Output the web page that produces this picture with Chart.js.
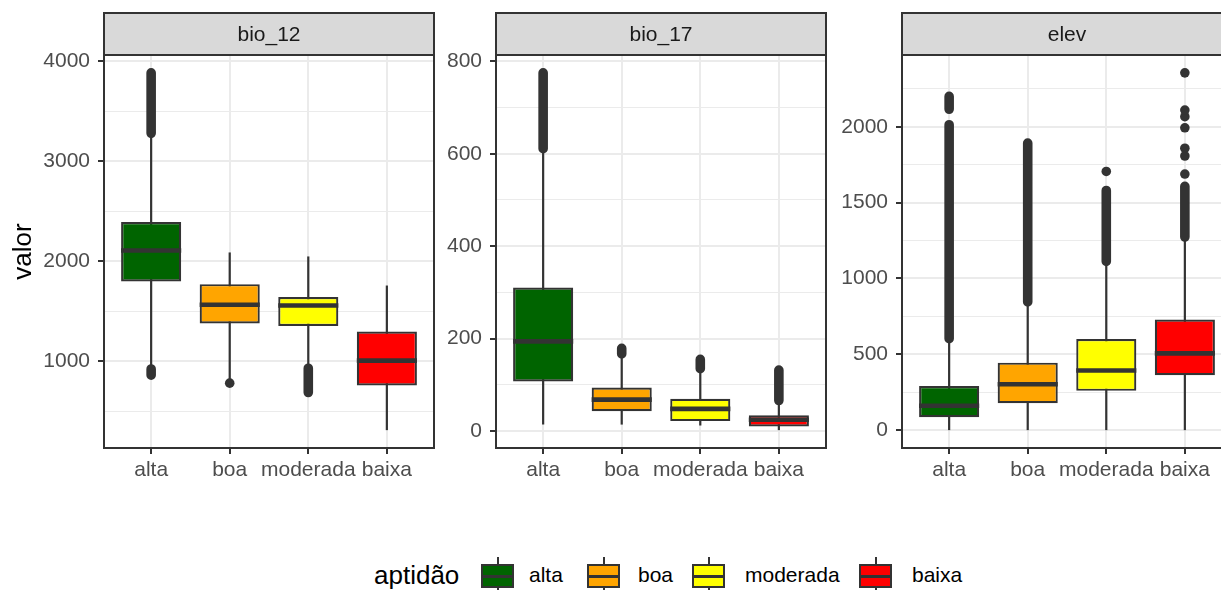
<!DOCTYPE html>
<html>
<head>
<meta charset="utf-8">
<script src="https://cdn.jsdelivr.net/npm/chart.js@4/dist/chart.umd.min.js"></script>
<style>
  html, body { margin: 0; padding: 0; background: #ffffff; }
  body { width: 1221px; height: 590px; overflow: hidden; position: relative;
         font-family: "Liberation Sans", Arial, sans-serif; }
  .panel { position: absolute; top: 0; }
  .legend-title { position: absolute; left: 374px; top: 560px; font-size: 26px; line-height: 30px; color: #000; white-space: nowrap; }
  .legend-label { position: absolute; top: 563px; font-size: 21px; line-height: 24px; color: #000; white-space: nowrap; }
  .key { position: absolute; top: 552px; width: 43px; height: 48px; }
  .key .wt, .key .wb { position: absolute; left: 20.5px; width: 2px; background: #333333; }
  .key .wt { top: 5px; height: 7px; }
  .key .wb { top: 36px; height: 7px; }
  .key .bx { position: absolute; left: 5px; top: 12px; width: 33px; height: 24px; box-sizing: border-box; border: 2px solid #333333; }
  .key .md { position: absolute; left: 5px; top: 22.5px; width: 33px; height: 3px; background: #333333; }
</style>
</head>
<body>
<div class="panel" style="left:0px"><canvas id="bio12" width="440" height="500"></canvas></div>
<div class="panel" style="left:436px"><canvas id="bio17" width="396" height="500"></canvas></div>
<div class="panel" style="left:832px"><canvas id="elev" width="406" height="500"></canvas></div>
<div id="legend"></div>

<script>
const categories = ['alta', 'boa', 'moderada', 'baixa'];
const fillColors = ['#006400', '#FFA500', '#FFFF00', '#FF0000'];

// bio_12: whisker ends, quartiles, medians, outliers
const bio12Low = [935, 805, 940, 310];
const bio12Q1 = [1797, 1377, 1353, 756];
const bio12Median = [2108, 1564, 1557, 1006];
const bio12Q3 = [2393, 1771, 1641, 1297];
const bio12High = [3270, 2088, 2048, 1757];
const bio12OutlierRuns = [[0, 3280, 3885], [0, 860, 922], [2, 686, 930]];
const bio12OutlierPoints = [[1, 780]];
const bio12Ticks = [1000, 2000, 3000, 4000];
const bio12MinorTicks = [500, 1500, 2500, 3500];

// bio_17
const bio17Low = [14, 14, 12, 2];
const bio17Q1 = [107.5, 43, 21.5, 10];
const bio17Median = [194, 68, 48, 24.5];
const bio17Q3 = [310.5, 94, 70, 34];
const bio17High = [605, 160, 132, 62];
const bio17OutlierRuns = [[0, 611, 775], [1, 167, 179], [2, 135, 155], [3, 66, 132]];
const bio17OutlierPoints = [];
const bio17Ticks = [0, 200, 400, 600, 800];
const bio17MinorTicks = [100, 300, 500, 700];

// elev
const elevLow = [0, 0, 0, 0];
const elevQ1 = [85, 177, 259, 362];
const elevMedian = [161, 302, 393, 506];
const elevQ3 = [291, 445, 600, 729];
const elevHigh = [595, 835, 1100, 1265];
const elevOutlierRuns = [[0, 603, 2013], [0, 2115, 2200], [1, 845, 1892], [2, 1112, 1580], [3, 1273, 1607]];
const elevOutlierPoints = [[2, 1705], [3, 1688], [3, 1807], [3, 1858], [3, 1993], [3, 2066], [3, 2110], [3, 2355]];
const elevTicks = [0, 500, 1000, 1500, 2000];
const elevMinorTicks = [250, 750, 1250, 1750, 2250];

const FONT = '"Liberation Sans", Arial, sans-serif';
const INK = '#333333';
const STRIP_H = 42;

// whiskers under the boxes, medians over them, then panel border and strip
const boxExtras = {
  id: 'boxExtras',
  beforeDatasetsDraw(chart, args, opts) {
    const ctx = chart.ctx, y = chart.scales.y, area = chart.chartArea;
    const bars = chart.getDatasetMeta(0).data;
    ctx.save();
    ctx.beginPath();
    ctx.rect(area.left, area.top, area.right - area.left, area.bottom - area.top);
    ctx.clip();
    ctx.strokeStyle = INK;
    ctx.lineWidth = 2.2;
    bars.forEach((bar, i) => {
      ctx.beginPath();
      ctx.moveTo(bar.x, y.getPixelForValue(opts.low[i]));
      ctx.lineTo(bar.x, y.getPixelForValue(opts.high[i]));
      ctx.stroke();
    });
    ctx.restore();
  },
  afterDatasetsDraw(chart, args, opts) {
    const ctx = chart.ctx, y = chart.scales.y;
    const bars = chart.getDatasetMeta(0).data;
    ctx.save();
    ctx.strokeStyle = INK;
    ctx.lineWidth = 4.6;
    bars.forEach((bar, i) => {
      const py = y.getPixelForValue(opts.median[i]);
      ctx.beginPath();
      ctx.moveTo(bar.x - bar.width / 2, py);
      ctx.lineTo(bar.x + bar.width / 2, py);
      ctx.stroke();
    });
    ctx.restore();
  },
  afterDraw(chart, args, opts) {
    const ctx = chart.ctx, a = chart.chartArea;
    const w = a.right - a.left;
    ctx.save();
    ctx.strokeStyle = INK;
    ctx.lineWidth = 2;
    ctx.strokeRect(a.left, a.top, w, a.bottom - a.top);
    ctx.fillStyle = '#D9D9D9';
    ctx.fillRect(a.left, a.top - STRIP_H, w, STRIP_H);
    ctx.strokeRect(a.left, a.top - STRIP_H, w, STRIP_H);
    ctx.fillStyle = '#1A1A1A';
    ctx.font = '21px ' + FONT;
    ctx.textAlign = 'center';
    ctx.textBaseline = 'middle';
    ctx.fillText(opts.strip, a.left + w / 2, a.top - STRIP_H / 2 + 1);
    ctx.restore();
  }
};

function makePanel(id, p) {
  const allLow = p.low.concat(p.runs.map(r => r[1]), p.points.map(q => q[1]));
  const allHigh = p.high.concat(p.runs.map(r => r[2]), p.points.map(q => q[1]));
  const lo = Math.min(...allLow), hi = Math.max(...allHigh);
  const pad = (hi - lo) * 0.05;

  const runData = [];
  p.runs.forEach(r => {
    runData.push({ x: r[0], y: r[1] }, { x: r[0], y: r[2] }, { x: r[0], y: null });
  });
  const pointData = p.points.map(q => ({ x: q[0], y: q[1] }));
  const major = new Set(p.ticks);
  const allTicks = p.ticks.concat(p.minor).sort((a, b) => a - b);

  return new Chart(document.getElementById(id), {
    type: 'bar',
    data: {
      datasets: [
        {
          type: 'bar',
          data: categories.map((c, i) => ({ x: i, y: [p.q1[i], p.q3[i]] })),
          backgroundColor: fillColors,
          borderColor: INK,
          borderWidth: 2.2,
          borderSkipped: false,
          barPercentage: 0.765,
          categoryPercentage: 1,
          order: 2
        },
        {
          type: 'line',
          data: runData,
          borderColor: INK,
          borderWidth: 9.6,
          borderCapStyle: 'round',
          borderJoinStyle: 'round',
          pointRadius: 0,
          spanGaps: false,
          tension: 0,
          order: 1
        },
        {
          type: 'scatter',
          data: pointData,
          pointRadius: 4.8,
          pointBackgroundColor: INK,
          pointBorderWidth: 0,
          order: 0
        }
      ]
    },
    options: {
      responsive: false,
      animation: false,
      events: [],
      layout: { padding: { top: 55, right: 6, left: 0, bottom: 0 } },
      plugins: {
        legend: { display: false },
        tooltip: { enabled: false },
        boxExtras: { strip: p.strip, low: p.low, high: p.high, median: p.median }
      },
      scales: {
        x: {
          type: 'linear',
          offset: false,
          min: -0.6,
          max: categories.length - 0.4,
          afterBuildTicks: s => { s.ticks = categories.map((c, i) => ({ value: i })); },
          afterFit: s => { s.height = 52; },
          ticks: {
            autoSkip: false, maxRotation: 0, padding: 4,
            color: '#4D4D4D', font: { family: FONT, size: 21 },
            callback: v => categories[v]
          },
          grid: { offset: false, color: '#EBEBEB', lineWidth: 2, tickColor: INK, tickLength: 6, tickWidth: 2 },
          border: { display: false }
        },
        y: {
          type: 'linear',
          bounds: 'data',
          min: lo - pad,
          max: hi + pad,
          afterBuildTicks: s => { s.ticks = allTicks.map(v => ({ value: v })); },
          afterFit: s => { s.width = p.axisWidth; },
          ticks: {
            autoSkip: false, padding: 8,
            color: '#4D4D4D', font: { family: FONT, size: 21 },
            callback: v => major.has(v) ? String(v) : ''
          },
          grid: {
            color: '#EBEBEB',
            lineWidth: c => major.has(c.tick.value) ? 2 : 1,
            tickColor: c => major.has(c.tick.value) ? INK : 'rgba(0,0,0,0)',
            tickLength: 6, tickWidth: 2
          },
          border: { display: false },
          title: {
            display: !!p.title, text: p.title || '', color: '#000000',
            font: { family: FONT, size: 26 }, padding: { top: 8, bottom: 0 }
          }
        }
      }
    },
    plugins: [boxExtras]
  });
}

makePanel('bio12', {
  strip: 'bio_12', title: 'valor', axisWidth: 104,
  low: bio12Low, q1: bio12Q1, median: bio12Median, q3: bio12Q3, high: bio12High,
  runs: bio12OutlierRuns, points: bio12OutlierPoints, ticks: bio12Ticks, minor: bio12MinorTicks
});
makePanel('bio17', {
  strip: 'bio_17', axisWidth: 60,
  low: bio17Low, q1: bio17Q1, median: bio17Median, q3: bio17Q3, high: bio17High,
  runs: bio17OutlierRuns, points: bio17OutlierPoints, ticks: bio17Ticks, minor: bio17MinorTicks
});
makePanel('elev', {
  strip: 'elev', axisWidth: 70,
  low: elevLow, q1: elevQ1, median: elevMedian, q3: elevQ3, high: elevHigh,
  runs: elevOutlierRuns, points: elevOutlierPoints, ticks: elevTicks, minor: elevMinorTicks
});

// legend: title, then one boxplot key and label per category
const keyLefts = [476, 582, 687, 854];
const labelLefts = [529, 638, 745, 912];
const legend = document.getElementById('legend');
const title = document.createElement('div');
title.className = 'legend-title';
title.textContent = 'aptidão';
legend.appendChild(title);
categories.forEach((c, i) => {
  const key = document.createElement('div');
  key.className = 'key';
  key.style.left = keyLefts[i] + 'px';
  key.innerHTML = '<div class="wt"></div><div class="wb"></div>' +
    '<div class="bx" style="background:' + fillColors[i] + '"></div><div class="md"></div>';
  legend.appendChild(key);
  const lab = document.createElement('div');
  lab.className = 'legend-label';
  lab.style.left = labelLefts[i] + 'px';
  lab.textContent = c;
  legend.appendChild(lab);
});
</script>
</body>
</html>
